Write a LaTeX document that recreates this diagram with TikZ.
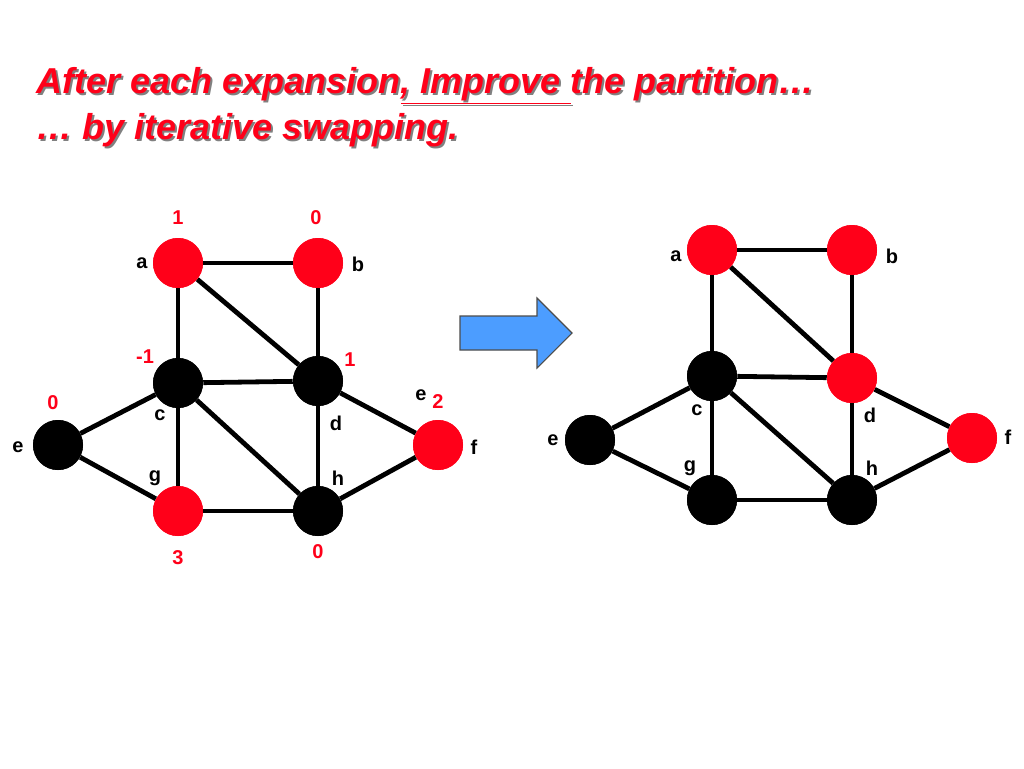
\documentclass[tikz,border=0pt]{standalone}
\usepackage{fontspec}
\setmainfont{Liberation Sans}
\begin{document}
\begin{tikzpicture}[x=0.75pt,y=-0.75pt,
 rn/.style={circle,fill=red!90!magenta,minimum size=37.5pt,inner sep=0pt},
 bn/.style={circle,fill=black,minimum size=37.5pt,inner sep=0pt},
 ed/.style={line width=3.6pt},
 lb/.style={font=\bfseries\fontsize{15}{15}\selectfont},
 nm/.style={font=\bfseries\fontsize{15}{15}\selectfont,text=red!90!magenta},
 tt/.style={font=\bfseries\itshape\fontsize{27}{30}\selectfont,anchor=west}]
\useasboundingbox (0,0) rectangle (1024,768);
% title
\foreach \dx/\c in {2/gray,0/red!90!magenta}{
\node[tt,text=\c] (t1\dx) at (32+\dx,86+\dx) {After each expansion\underline{, Improve }the partition…};
\node[tt,text=\c] (t2\dx) at (32+\dx,130+\dx) {… by iterative swapping.};}
% left graph
\node[rn] (a) at (178,263) {}; \node[rn] (b) at (318,263) {};
\node[bn] (c) at (178,383) {}; \node[bn] (d) at (318,381) {};
\node[bn] (e) at (58,445) {}; \node[rn] (f) at (438,445) {};
\node[rn] (g) at (178,511) {}; \node[bn] (h) at (318,511) {};
\foreach \u/\v in {a/b,a/c,a/d,b/d,c/d,c/e,c/g,c/h,d/h,d/f,e/g,g/h,h/f}
  \draw[ed] (\u) -- (\v);
\node[rn] at (a) {}; \node[rn] at (b) {}; \node[bn] at (c) {}; \node[bn] at (d) {};
\node[bn] at (e) {}; \node[rn] at (f) {}; \node[rn] at (g) {}; \node[bn] at (h) {};
\node[lb] (la) at (142,263) {a}; \node[lb] (lb2) at (358,264) {b};
\node[lb] (lc) at (160,415) {c}; \node[lb] (ld) at (336,423) {d};
\node[lb] (le) at (18,447) {e}; \node[lb] (lf) at (474,447) {f};
\node[lb] (lg) at (155,478) {g}; \node[lb] (lh) at (338,478) {h};
\node[lb] (le2) at (421,395) {e};
\node[nm] (n1) at (178,218) {1}; \node[nm] (n2) at (316,218) {0};
\node[nm] (n3) at (145,357) {-1}; \node[nm] (n4) at (350,360) {1};
\node[nm] (n5) at (53,403) {0}; \node[nm] (n6) at (438,402) {2};
\node[nm] (n7) at (178,558) {3}; \node[nm] (n8) at (318,552) {0};
% arrow
\draw[fill=blue!55!cyan!70!white,draw=black!70,line width=0.8pt]
 (460,316) -- (537,316) -- (537,298) -- (572,333) -- (537,368) -- (537,350) -- (460,350) -- cycle;
% right graph
\node[rn] (A) at (712,250) {}; \node[rn] (B) at (852,250) {};
\node[bn] (C) at (712,376) {}; \node[rn] (D) at (852,378) {};
\node[bn] (E) at (590,440) {}; \node[rn] (F) at (972,438) {};
\node[bn] (G) at (712,500) {}; \node[bn] (H) at (852,500) {};
\foreach \u/\v in {A/B,A/C,A/D,B/D,C/D,C/E,C/G,C/H,D/H,D/F,E/G,G/H,H/F}
  \draw[ed] (\u) -- (\v);
\node[rn] at (A) {}; \node[rn] at (B) {}; \node[bn] at (C) {}; \node[rn] at (D) {};
\node[bn] at (E) {}; \node[rn] at (F) {}; \node[bn] at (G) {}; \node[bn] at (H) {};
\node[lb] (lA) at (676,256) {a}; \node[lb] (lB) at (892,256) {b};
\node[lb] (lC) at (697,410) {c}; \node[lb] (lD) at (870,415) {d};
\node[lb] (lE) at (553,440) {e}; \node[lb] (lF) at (1008,437) {f};
\node[lb] (lG) at (690,468) {g}; \node[lb] (lH) at (872,468) {h};
\end{tikzpicture}
\end{document}
